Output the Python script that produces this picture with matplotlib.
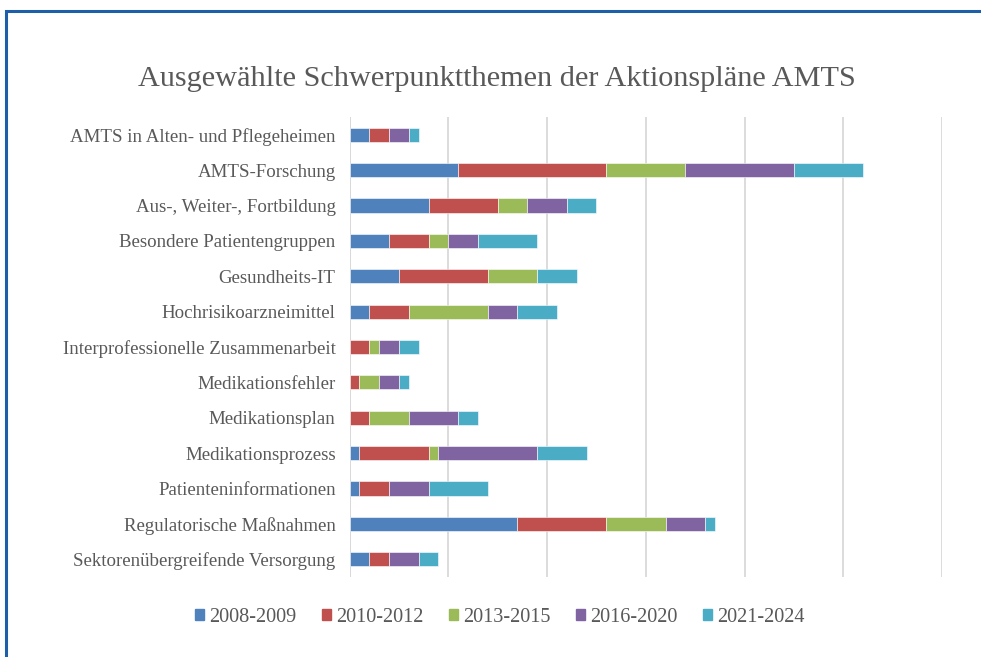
import numpy as np
import matplotlib
matplotlib.use('Agg')
import matplotlib.pyplot as plt
from matplotlib.patches import Rectangle

categories = ['AMTS in Alten- und Pflegeheimen', 'AMTS-Forschung',
              'Aus-, Weiter-, Fortbildung', 'Besondere Patientengruppen',
              'Gesundheits-IT', 'Hochrisikoarzneimittel',
              'Interprofessionelle Zusammenarbeit', 'Medikationsfehler',
              'Medikationsplan', 'Medikationsprozess',
              'Patienteninformationen', 'Regulatorische Maßnahmen',
              'Sektorenübergreifende Versorgung']
series = ['2008-2009', '2010-2012', '2013-2015', '2016-2020', '2021-2024']
v2008 = [2, 11, 8, 4, 5, 2, 0, 0, 0, 1, 1, 17, 2]
v2010 = [2, 15, 7, 4, 9, 4, 2, 1, 2, 7, 3, 9, 2]
v2013 = [0, 8, 3, 2, 5, 8, 1, 2, 4, 1, 0, 6, 0]
v2016 = [2, 11, 4, 3, 0, 3, 2, 2, 5, 10, 4, 4, 3]
v2021 = [1, 7, 3, 6, 4, 4, 2, 1, 2, 5, 6, 1, 2]
values = [v2008, v2010, v2013, v2016, v2021]
colors = ['#4F81BD', '#C0504D', '#9BBB59', '#8064A2', '#4BACC6']

plt.rcParams['font.family'] = ['Liberation Serif', 'DejaVu Serif']
txt = '#595959'

fig = plt.figure(figsize=(9.81, 6.57), dpi=100)
ax = fig.add_axes([349.5/981, 1-577/657, (942-349.5)/981, 460/657])

y = np.arange(len(categories))
left = np.zeros(len(categories))
for vals, c, lab in zip(values, colors, series):
    vals = np.array(vals, dtype=float)
    ax.barh(y, vals, left=left, height=0.4, color=c, label=lab,
            edgecolor='white', linewidth=0.4, zorder=3)
    left += vals

ax.set_xlim(0, 60)
ax.set_ylim(len(categories)-0.5, -0.5)
ax.set_xticks(np.arange(0, 61, 10))
ax.set_xticklabels([])
ax.tick_params(axis='x', length=0)
ax.tick_params(axis='y', length=0, pad=10, labelsize=13.6, labelcolor=txt)
ax.set_yticks(y)
ax.set_yticklabels(categories)
ax.grid(axis='x', color='#D9D9D9', linewidth=1.3, zorder=0)
for s in ax.spines.values():
    s.set_visible(False)
ax.axvline(0, color='#D9D9D9', linewidth=1.3, zorder=1)

fig.text(497/981, 1-79/657, 'Ausgewählte Schwerpunktthemen der Aktionspläne AMTS',
         ha='center', va='center', fontsize=21.8, color=txt)

handles = [Rectangle((0, 0), 1, 1, color=c) for c in colors]
fig.legend(handles, series, loc='center', bbox_to_anchor=(500/981, 1-617/657),
           ncol=5, frameon=False, fontsize=14.6, handlelength=0.45, handleheight=0.45,
           handletextpad=0.25, columnspacing=1.25, labelcolor=txt)

fig.patches.append(Rectangle((6/981, -0.1), 1.2, 1-11/657+0.1, transform=fig.transFigure,
                             fill=False, edgecolor='#1F5FAA', linewidth=2.2))

fig.savefig('out.png', dpi=100)
